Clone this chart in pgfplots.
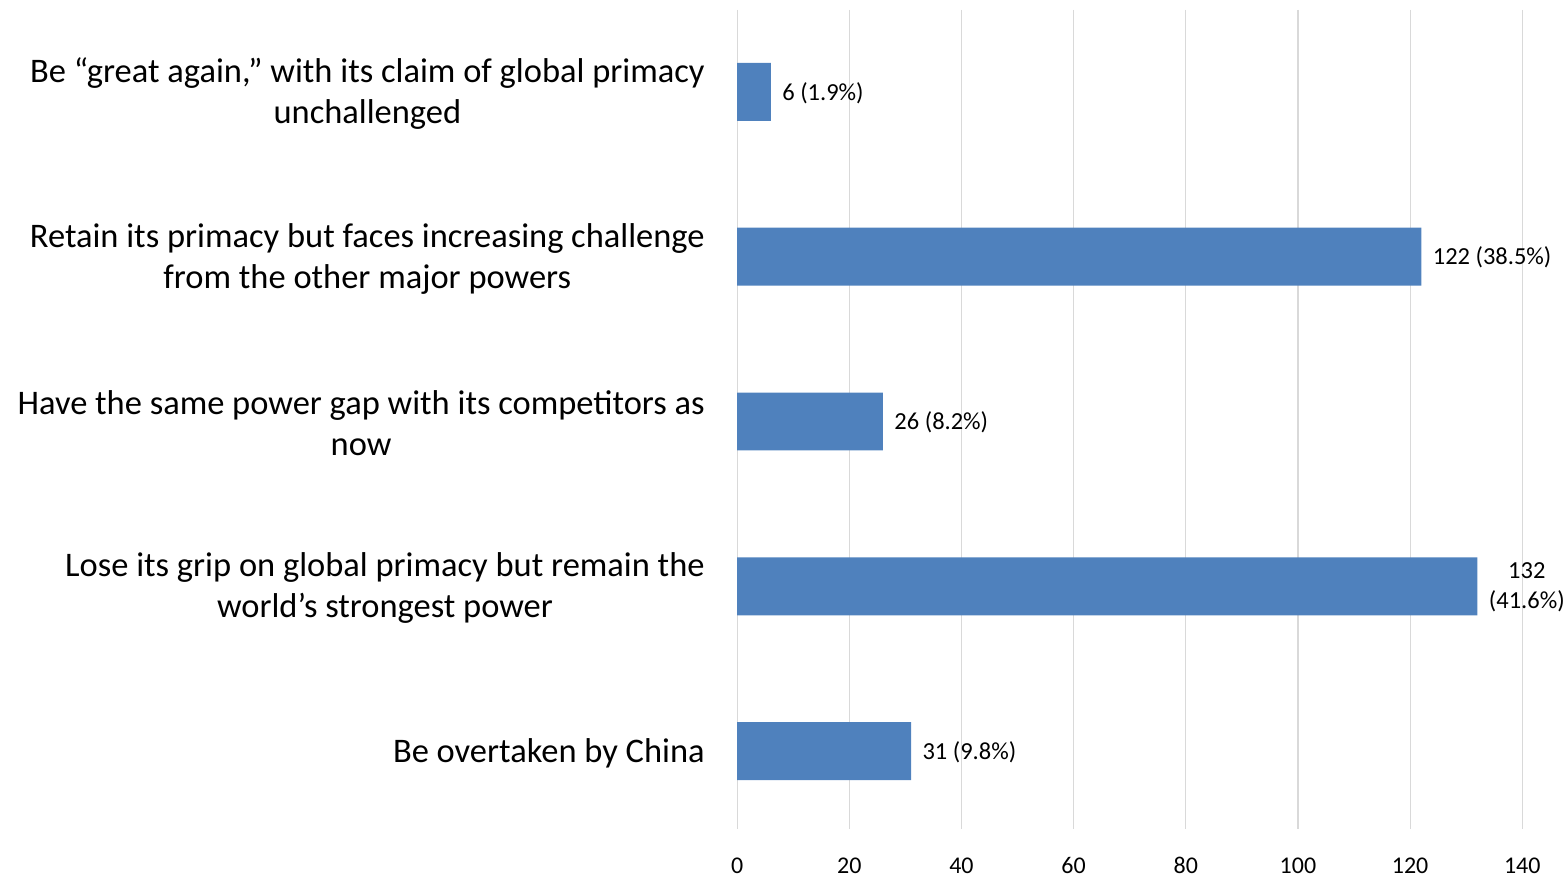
\documentclass[border=0pt]{standalone}
\usepackage{pgfplots}
\pgfplotsset{compat=1.18}
\usepackage{fontspec}
\setmainfont{Carlito}
\definecolor{barblue}{HTML}{4F81BD}
\definecolor{gridgray}{HTML}{D9D9D9}
\begin{document}
\begin{tikzpicture}
\begin{axis}[
    xbar,
    scale only axis,
    width=786pt,
    height=820pt,
    xmin=0, xmax=140,
    ymin=-0.497, ymax=4.473,
    y dir=reverse,
    axis line style={draw=none},
    major tick length=0pt,
    xtick={0,20,...,140},
    ytick={0,1,2,3,4},
    yticklabels={
        {Be “great again,” with its claim of global primacy\\unchallenged},
        {Retain its primacy but faces increasing challenge\\from the other major powers},
        {Have the same power gap with its competitors as\\now},
        {Lose its grip on global primacy but remain the\\world’s strongest power},
        {Be overtaken by China}},
    yticklabel style={font=\fontsize{34.5}{41}\selectfont, align=center, xshift=-29pt, yshift=-2pt},
    xticklabel style={font=\fontsize{24}{29}\selectfont, anchor=north, text height=17pt, text depth=0pt, yshift=-24pt},
    /pgf/number format/assume math mode=true,
    xmajorgrids,
    grid style={gridgray, line width=1.2pt},
    bar width=58pt,
    nodes near coords,
    point meta=explicit symbolic,
    nodes near coords style={font=\fontsize{24.5}{30}\selectfont, align=center, anchor=west, xshift=8pt, yshift=-1pt},
    clip=false,
]
\addplot[fill=barblue, draw=none] coordinates {
    (6,0) [6 (1.9\%)]
    (122,1) [122 (38.5\%)]
    (26,2) [26 (8.2\%)]
    (132,3) [{132\\(41.6\%)}]
    (31,4) [31 (9.8\%)]
};
\end{axis}
\path ([shift={(-738pt,-46pt)}]current axis.south west) ([shift={(44pt,10pt)}]current axis.north east);
\end{tikzpicture}
\end{document}
